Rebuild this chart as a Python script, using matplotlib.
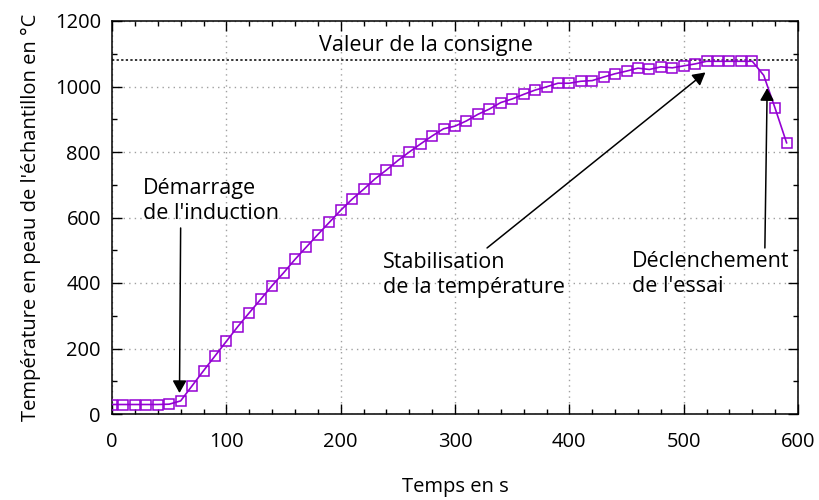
import numpy as np
import matplotlib.pyplot as plt

plt.rcParams['font.family'] = ['Open Sans', 'DejaVu Sans']

# temperature readings, one every 10 s
temps_s = np.arange(0, 600, 10)
temp_c = [29, 29, 29, 29, 29, 30, 40, 86, 132, 177,
          222, 267, 309, 350, 392, 431, 472, 510, 548, 585,
          622, 656, 686, 718, 745, 774, 800, 825, 849, 871,
          879, 895, 915, 931, 951, 962, 976, 989, 999, 1010,
          1010, 1016, 1018, 1029, 1039, 1047, 1056, 1052, 1060, 1057,
          1063, 1069, 1077, 1077, 1077, 1077, 1077, 1034, 933, 828]
consigne = 1080

x_ticks = [0, 100, 200, 300, 400, 500, 600]
y_ticks = [0, 200, 400, 600, 800, 1000, 1200]

fs = 14.5
fs_txt = 15.5
violet = '#9400d3'

fig = plt.figure(figsize=(8.19, 5.0), dpi=100)
ax = fig.add_axes([0.1368, 0.172, 0.8376, 0.786])

ax.plot(temps_s, temp_c, color=violet, lw=1.2, marker='s', ms=7,
        mfc='none', mec=violet, mew=1.1, zorder=3)

# setpoint
ax.axhline(consigne, color='black', lw=1.1, ls=(0, (1.5, 1.5)), zorder=2)
ax.text(181, consigne + 14, 'Valeur de la consigne',
        fontsize=fs_txt, ha='left', va='bottom')

ax.set_xlim(0, 600)
ax.set_ylim(0, 1200)
ax.set_xticks(x_ticks)
ax.set_yticks(y_ticks)
ax.set_xticks(np.arange(0, 601, 20), minor=True)
ax.set_yticks(np.arange(0, 1201, 100), minor=True)
ax.tick_params(which='both', direction='in', top=True, right=True,
               labelsize=fs, width=1.0)
ax.tick_params(which='major', length=7, pad=8)
ax.tick_params(axis='x', which='major', pad=13)
ax.tick_params(which='minor', length=3.5)
for s in ax.spines.values():
    s.set_linewidth(1.1)

ax.grid(True, which='major', color='#a0a0a0', lw=1.0, ls=(0, (1, 3)))

ax.set_xlabel('Temps en s', fontsize=fs, labelpad=18)
ax.set_ylabel("Température en peau de l'échantillon en °C", fontsize=fs,
              labelpad=10)

arrow = dict(arrowstyle='-|>,head_length=0.75,head_width=0.42',
             color='black', lw=1.1, shrinkA=0, shrinkB=0)

ax.annotate('', xy=(59, 64), xytext=(60, 568), arrowprops=arrow)
ax.text(27, 650, "Démarrage\nde l'induction", fontsize=fs_txt,
        ha='left', va='center', linespacing=1.25)

ax.annotate('', xy=(519, 1043), xytext=(328, 507), arrowprops=arrow)
ax.text(237, 425, "Stabilisation\nde la température", fontsize=fs_txt,
        ha='left', va='center', linespacing=1.25)

ax.annotate('', xy=(573, 995), xytext=(571, 507), arrowprops=arrow)
ax.text(455, 428, "Déclenchement\nde l'essai", fontsize=fs_txt,
        ha='left', va='center', linespacing=1.25)

fig.savefig('out.png', dpi=100)
